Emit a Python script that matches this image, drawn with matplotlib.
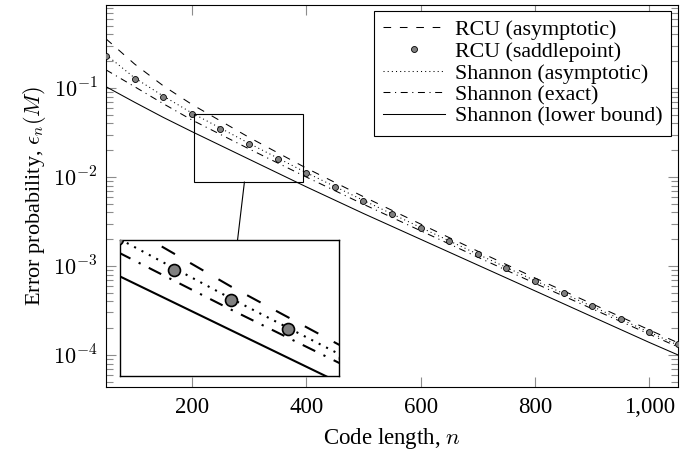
import numpy as np
import matplotlib
matplotlib.use('Agg')
import matplotlib.pyplot as plt
from matplotlib.patches import Rectangle
from matplotlib.lines import Line2D

# ---------------- data ----------------
n_saddle = [50, 100, 150, 200, 250, 300, 350, 400, 450, 500, 550,
            600, 650, 700, 750, 800, 850, 900, 950, 1000, 1050]
rcu_saddle = [0.231, 0.127, 0.0792, 0.0514, 0.0346, 0.0235, 0.0161, 0.0111,
              0.00766, 0.00542, 0.00381, 0.00270, 0.00191, 0.00135, 9.57e-4,
              6.84e-4, 4.93e-4, 3.52e-4, 2.52e-4, 1.81e-4, 1.31e-4]

n_curve = [50, 100, 150, 200, 300, 400, 500, 600, 700, 800, 900, 1000, 1050]
rcu_asym = [0.357, 0.186, 0.106, 0.0655, 0.0279, 0.0126, 0.00601, 0.00296,
            0.001466, 7.33e-4, 3.75e-4, 1.91e-4, 1.37e-4]
shannon_asym = [0.237, 0.130, 0.0813, 0.0525, 0.0239, 0.0112, 0.00546, 0.00271,
                0.001355, 6.84e-4, 3.51e-4, 1.80e-4, 1.29e-4]
shannon_exact = [0.160, 0.1035, 0.0667, 0.0438, 0.0207, 0.0100, 0.00494, 0.00249,
                 0.001256, 6.38e-4, 3.30e-4, 1.71e-4, 1.23e-4]
shannon_lower = [0.1035, 0.0692, 0.0468, 0.0324, 0.01585, 0.00776, 0.00389,
                 0.001995, 0.001023, 5.25e-4, 2.69e-4, 1.38e-4, 1.0e-4]

labels = ['RCU (asymptotic)', 'RCU (saddlepoint)', 'Shannon (asymptotic)',
          'Shannon (exact)', 'Shannon (lower bound)']

xticks = [200, 400, 600, 800, 1000]
xtick_labels = ['200', '400', '600', '800', '1,000']
yticks = [1e-4, 1e-3, 1e-2, 1e-1]
ytick_labels = [r'$10^{-4}$', r'$10^{-3}$', r'$10^{-2}$', r'$10^{-1}$']

xlim_main = (50, 1050)
ylim_main = (4.36e-5, 0.857)
xlim_zoom = (203, 395)
ylim_zoom = (0.00875, 0.0508)

# ---------------- style ----------------
plt.rcParams['font.family'] = ['Liberation Serif', 'DejaVu Serif']
plt.rcParams['mathtext.fontset'] = 'cm'
plt.rcParams['lines.scale_dashes'] = False

FS = 16.5

fig = plt.figure(figsize=(6.96, 4.51), dpi=100)
ax = fig.add_axes([0.1523, 0.1419, 0.8218, 0.8470])


def draw(a, s):
    lw = 0.75 * s
    a.plot(n_curve, rcu_asym, color='black', lw=lw,
           dashes=(5.5 * s, 6.3 * s), label=labels[0])
    a.plot(n_saddle, rcu_saddle, linestyle='none', marker='o',
           ms=4.3 * s, mfc='#808080', mec='black', mew=0.6 * s,
           label=labels[1], zorder=5)
    a.plot(n_curve, shannon_asym, color='black', lw=lw,
           dashes=(0.75 * s, 2.25 * s), label=labels[2])
    a.plot(n_curve, shannon_exact, color='black', lw=lw,
           dashes=(5.0 * s, 3.3 * s, 0.8 * s, 3.3 * s), label=labels[3])
    a.plot(n_curve, shannon_lower, color='black', lw=lw, label=labels[4])


draw(ax, 1.0)
ax.set_yscale('log')
ax.set_xlim(*xlim_main)
ax.set_ylim(*ylim_main)
ax.set_xticks(xticks)
ax.set_xticklabels(xtick_labels, fontsize=FS)
ax.set_yticks(yticks)
ax.set_yticklabels(ytick_labels, fontsize=16)
ax.tick_params(which='both', direction='in', top=True, right=True,
               color='#8c8c8c', width=0.8)
ax.tick_params(which='major', length=7.5)
ax.tick_params(which='minor', length=5.0)
ax.tick_params(axis='x', pad=7)
ax.tick_params(axis='y', pad=6)
for sp in ax.spines.values():
    sp.set_linewidth(0.8)
ax.set_xlabel(r'Code length, $n$', fontsize=FS, labelpad=6)
ax.set_ylabel(r'Error probability, $\epsilon_n(M)$', fontsize=16, labelpad=4)

leg = ax.legend(loc='upper right', bbox_to_anchor=(1 - 7 / 572, 1 - 6 / 382),
                borderaxespad=0, fontsize=15.8, fancybox=False, framealpha=1,
                edgecolor='black', handlelength=2.8, labelspacing=0.06,
                handletextpad=0.45, borderpad=0.4)
leg.get_frame().set_linewidth(0.8)

# zoom rectangle
rect = Rectangle((xlim_zoom[0], ylim_zoom[0]), xlim_zoom[1] - xlim_zoom[0],
                 ylim_zoom[1] - ylim_zoom[0], fill=False, edgecolor='black',
                 lw=0.8, zorder=6)
ax.add_patch(rect)

# inset
axin = fig.add_axes([0.1724, 0.1663, 0.3147, 0.3015])
draw(axin, 2.0)
axin.set_yscale('log')
axin.set_xlim(*xlim_zoom)
axin.set_ylim(*ylim_zoom)
axin.set_xticks([])
axin.set_yticks([])
axin.minorticks_off()
for sp in axin.spines.values():
    sp.set_linewidth(1.0)

# connector line between centers, clipped to the two boxes
inv = fig.transFigure.inverted()
r0 = ax.transData.transform((xlim_zoom[0], ylim_zoom[0]))
r1 = ax.transData.transform((xlim_zoom[1], ylim_zoom[1]))
rc = (r0 + r1) / 2
ib = axin.get_window_extent()
ic = np.array([(ib.x0 + ib.x1) / 2, (ib.y0 + ib.y1) / 2])
d = ic - rc
t_start = (r0[1] - rc[1]) / d[1]
t_end = (ib.y1 - rc[1]) / d[1]
p_start = inv.transform(rc + t_start * d)
p_end = inv.transform(rc + t_end * d)
fig.add_artist(Line2D([p_start[0], p_end[0]], [p_start[1], p_end[1]],
                      color='black', lw=0.8, transform=fig.transFigure))

fig.savefig('out.png', dpi=100)
